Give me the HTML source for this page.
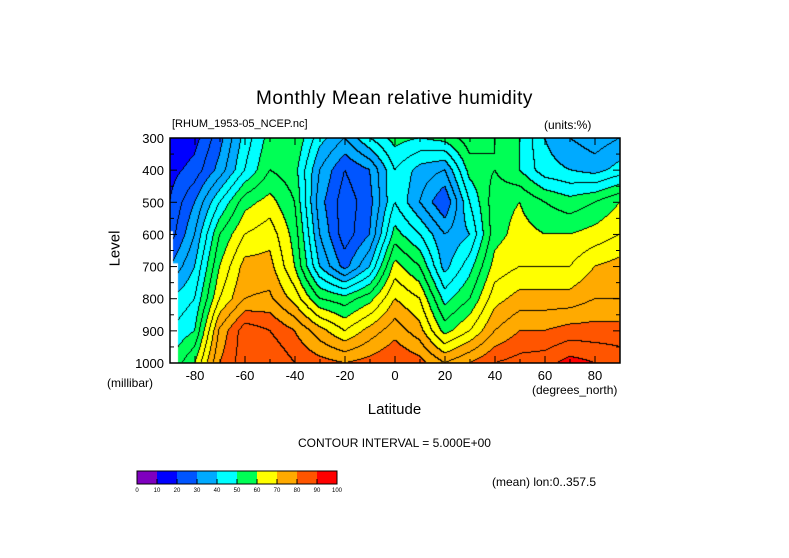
<!DOCTYPE html>
<html><head><meta charset="utf-8"><style>
body{margin:0;background:#fff;}
#wrap{position:relative;width:789px;height:558px;overflow:hidden;font-family:"Liberation Sans",sans-serif;color:#000;}
.t{position:absolute;white-space:nowrap;}
</style></head><body>
<div id="wrap">
<div class="t" style="left:0;width:789px;text-align:center;top:88px;font-size:19px;letter-spacing:0.5px">Monthly Mean relative humidity</div>
<div class="t" style="left:172px;top:118px;font-size:11px">[RHUM_1953-05_NCEP.nc]</div>
<div class="t" style="left:544px;top:118px;font-size:12px">(units:%)</div>
<canvas id="cv" width="450" height="225" style="position:absolute;left:170px;top:138px"></canvas>
<svg id="sv" width="789" height="558" style="position:absolute;left:0;top:0"></svg>
<div class="t" style="left:97px;top:240px;font-size:15px;transform:rotate(-90deg)">Level</div>
<div class="t" style="left:107px;top:376px;font-size:12px">(millibar)</div>
<div class="t" style="left:532px;top:383px;font-size:12px">(degrees_north)</div>
<div class="t" style="left:0;width:789px;text-align:center;top:401px;font-size:15px">Latitude</div>
<div class="t" style="left:0;width:789px;text-align:center;top:436px;font-size:12px">CONTOUR INTERVAL = 5.000E+00</div>
<div class="t" style="left:492px;top:475px;font-size:12px">(mean) lon:0..357.5</div>
</div>
<script>
const lats=[-90,-80,-70,-60,-50,-40,-30,-20,-10,0,10,20,30,40,50,60,70,80,90];
const levels=[300,400,500,600,700,800,900,1000];
const rh300=[15,18,28,42,52,55,42,35,45,52,50,52,58,55,50,40,35,32,35];
const rh400=[18,22,32,45,55,52,35,25,30,45,38,35,52,55,50,42,40,38,42];
const rh500=[20,30,45,58,62,55,32,22,28,45,35,25,45,58,60,55,52,55,60];
const rh600=[22,35,55,65,68,58,35,22,30,52,45,35,40,58,62,60,60,62,65];
const rh700=[30,40,60,72,72,60,40,28,40,62,55,38,48,62,65,65,65,70,72];
const rh800=[40,45,65,75,76,68,55,52,58,70,65,48,55,68,72,72,72,75,75];
const rh900=[45,50,76,88,85,80,72,65,72,78,72,58,65,75,80,80,82,82,82];
const rh1000=[50,60,80,88,90,85,82,80,82,85,82,75,80,85,87,88,92,90,88];
const grid=[rh300,rh400,rh500,rh600,rh700,rh800,rh900,rh1000];
const colorBands=["#7f00bf","#0000ff","#0055ff","#00aaff","#00ffff","#00ff55","#ffff00","#ffaa00","#ff5500","#ff0000"];
const bandTicks=[0,10,20,30,40,50,60,70,80,90,100];
const yTicks=[300,400,500,600,700,800,900,1000];
const xTicks=[-80,-60,-40,-20,0,20,40,60,80];

const X0=170,X1=620,Y0=138,Y1=363;
const xs=l=>X0+(l+90)/180*(X1-X0);
const ys=p=>Y0+(p-300)/700*(Y1-Y0);
function val(lat,p){
  let fi=(lat+90)/10, fj=(p-300)/100;
  let i=Math.min(Math.floor(fi),lats.length-2), j=Math.min(Math.floor(fj),levels.length-2);
  let a=fi-i,b=fj-j;
  return grid[j][i]*(1-a)*(1-b)+grid[j][i+1]*a*(1-b)+grid[j+1][i]*(1-a)*b+grid[j+1][i+1]*a*b;
}
const cv=document.getElementById('cv'),ctx=cv.getContext('2d');
const W=cv.width,H=cv.height;
const vals=[];
for(let y=0;y<H;y++){vals.push([]);for(let x=0;x<W;x++){
  const lat=-90+(x+0.5)/W*180,p=300+(y+0.5)/H*700;
  const v=val(lat,p);vals[y].push(v);
  ctx.fillStyle=colorBands[Math.max(0,Math.min(9,Math.floor(v/10)))];
  ctx.fillRect(x,y,1,1);
}}
ctx.fillStyle="#000";
for(let y=0;y<H-1;y++)for(let x=0;x<W-1;x++){
  const a=Math.floor(vals[y][x]/5),b=Math.floor(vals[y][x+1]/5),c=Math.floor(vals[y+1][x]/5);
  if(a!==b||a!==c)ctx.fillRect(x,y,1,1);
}
ctx.fillStyle="#fff";
ctx.fillRect(0,ys(590)-Y0,3,Y1-ys(590));
ctx.fillRect(0,ys(690)-Y0,8,Y1-ys(690));
const NS="http://www.w3.org/2000/svg";
const sv=document.getElementById('sv');
function mk(tag,attrs,name){const e=document.createElementNS(NS,tag);for(const k in attrs)e.setAttribute(k,attrs[k]);
  
  
  sv.appendChild(e);return e;}
mk('rect',{x:X0,y:Y0,width:X1-X0,height:Y1-Y0,fill:'none',stroke:'#000','stroke-width':1.5},'plot-frame');
for(let p=300;p<=1000;p+=50){const y=ys(p);const L=p%100===0?7:4;
  mk('line',{x1:X0,x2:X0+L,y1:y,y2:y,stroke:'#000'},'y-tick');mk('line',{x1:X1,x2:X1-L,y1:y,y2:y,stroke:'#000'},'y-tick-right');}
for(let l=-90;l<=90;l+=10){const x=xs(l);const L=l%20===0?7:4;
  mk('line',{x1:x,x2:x,y1:Y1,y2:Y1-L,stroke:'#000'},'x-tick');mk('line',{x1:x,x2:x,y1:Y0,y2:Y0+L,stroke:'#000'},'x-tick-top');}
yTicks.forEach(p=>{const t=mk('text',{x:X0-6,y:ys(p)+5,'text-anchor':'end','font-size':13,'font-family':'Liberation Sans'},'y-tick-label');t.textContent=p;});
xTicks.forEach(l=>{const t=mk('text',{x:xs(l),y:380,'text-anchor':'middle','font-size':13,'font-family':'Liberation Sans'},'x-tick-label');t.textContent=l;});
const cbX=137,cbW=200,cbY=471,cbH=13;
colorBands.forEach((c,i)=>{mk('rect',{x:cbX+i*cbW/10,y:cbY,width:cbW/10,height:cbH,fill:c},'colorbar-swatch');});
mk('rect',{x:cbX,y:cbY,width:cbW,height:cbH,fill:'none',stroke:'#000'},'colorbar-frame');
bandTicks.forEach((v,i)=>{const x=cbX+i*cbW/10;mk('line',{x1:x,x2:x,y1:cbY+cbH-5,y2:cbY+cbH,stroke:'#000'},'colorbar-tick');
  const t=mk('text',{x:x,y:cbY+cbH+8,'text-anchor':'middle','font-size':6,'font-family':'Liberation Sans'},'colorbar-label');t.textContent=v;});
</script>
</body></html>
